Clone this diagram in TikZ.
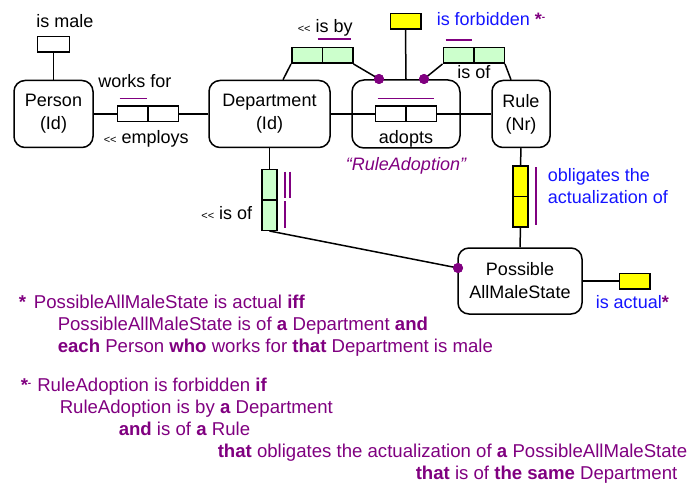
\documentclass[tikz,border=0pt]{standalone}
\usepackage{fontspec}
\setmainfont{Liberation Sans}
\usetikzlibrary{calc}
\definecolor{orm}{RGB}{128,0,128}
\definecolor{roleg}{RGB}{204,255,204}
\definecolor{ylw}{RGB}{255,255,0}
\definecolor{txtblue}{RGB}{20,20,255}
\newcommand{\sml}{\fontsize{11}{12}\selectfont}
\newcommand{\revmark}{{\sml\mbox{<}\mbox{<}}}
\begin{document}
\begin{tikzpicture}[x=1pt,y=-1pt,line width=1.5pt,
  every node/.style={font=\fontsize{18}{23}\selectfont},
  ent/.style={draw,rounded corners=11pt,align=center,inner sep=0pt},
  role/.style={draw,fill=white,inner sep=0pt,minimum width=30.5pt,minimum height=15.5pt},
  vrole/.style={draw,inner sep=0pt,minimum width=15pt,minimum height=30.5pt},
  greenrole/.style={role,fill=roleg},
  yrole/.style={role,fill=ylw},
  dotn/.style={circle,fill=orm,inner sep=0pt,minimum size=10pt},
  ucl/.style={draw=orm,line width=1.6pt},
  lbl/.style={inner sep=0pt},
  rule txt/.style={inner sep=0pt,anchor=base west,text=orm,font=\fontsize{18.6}{22}\selectfont}
]
\useasboundingbox (0,0) rectangle (688,484);

% entity types
\node[ent,minimum width=79pt,minimum height=67pt] (person) at (53.5,114) {Person\\(Id)};
\node[ent,minimum width=121pt,minimum height=67pt] (dept) at (269.5,114) {Department\\(Id)};
\node[ent,minimum width=58pt,minimum height=67pt] (rule) at (521,114) {Rule\\(Nr)};
\node[ent,minimum width=124pt,minimum height=66pt] (pams) at (520,281) {Possible\\AllMaleState};
\node[draw,rounded corners=12pt,minimum width=108pt,minimum height=68pt,inner sep=0pt] (obj) at (406,114) {};

% roles
\node[role,minimum width=32pt] (ismale) at (53.5,44.5) {};
\node[role] (wf1) at (132.5,114) {};
\node[role] (wf2) at (163,114) {};
\node[greenrole] (ib1) at (307,55.5) {};
\node[greenrole] (ib2) at (337.5,55.5) {};
\node[role] (ad1) at (390.5,114) {};
\node[role] (ad2) at (421,114) {};
\node[greenrole] (ro1) at (458.5,55.5) {};
\node[greenrole] (ro2) at (489,55.5) {};
\node[yrole] (fb) at (405.5,21.5) {};
\node[vrole,fill=roleg] (di1) at (269.5,184.5) {};
\node[vrole,fill=roleg] (di2) at (269.5,215) {};
\node[vrole,fill=ylw] (ob1) at (520.5,181) {};
\node[vrole,fill=ylw] (ob2) at (520.5,211.5) {};
\node[yrole] (ia) at (634.5,281) {};

% dots
\node[dotn] (d1) at (379,79) {};
\node[dotn] (d2) at (424,79) {};
\node[dotn] (d3) at (458,268) {};
\coordinate (c1) at ($(dept.north)+(13.5,0)$);
\coordinate (c2) at ($(rule.north)+(-10,0)$);

% connectors
\draw (ismale.south) -- (person.north);
\draw (person.east) -- (wf1.west);
\draw (wf2.east) -- (dept.west);
\draw (dept.east) -- (ad1.west);
\draw (ad2.east) -- (rule.west);
\draw (fb.south) -- (obj.north);
\draw (ib1.south west) -- (c1);
\draw (ib2.south east) -- (d1.center);
\draw (ro1.south west) -- (d2.center);
\draw (ro2.south east) -- (c2);
\draw (dept.south) -- (di1.north);
\draw (di2.south) -- (d3.center);
\draw (rule.south) -- (ob1.north);
\draw (ob2.south) -- (pams.north);
\draw (pams.east) -- (ia.west);
\node[dotn] at (d1) {};
\node[dotn] at (d2) {};
\node[dotn] at (d3) {};

% uniqueness constraints
\draw[ucl] ([xshift=3pt,yshift=7pt]wf1.north west) -- ([xshift=-2pt,yshift=7pt]wf1.north east);
\draw[ucl] ([xshift=-4pt,yshift=8pt]ib2.north west) -- ([xshift=-3pt,yshift=8pt]ib2.north east);
\draw[ucl] ([xshift=3pt,yshift=7pt]ad1.north west) -- ([xshift=-3pt,yshift=7pt]ad2.north east);
\draw[ucl] ([xshift=3pt,yshift=7pt]ro1.north west) -- ([xshift=-3pt,yshift=7pt]ro1.north east);
\draw[ucl] ([xshift=7pt,yshift=-3pt]di1.north east) -- ([xshift=7pt,yshift=3pt]di1.south east);
\draw[ucl] ([xshift=12pt,yshift=-3pt]di1.north east) -- ([xshift=12pt,yshift=3pt]di1.south east);
\draw[ucl] ([xshift=7pt,yshift=-2pt]di2.north east) -- ([xshift=7pt,yshift=3pt]di2.south east);
\draw[ucl] ([xshift=7pt,yshift=-2pt]ob1.north east) -- ([xshift=7pt,yshift=3pt]ob2.south east);

% labels
\node[lbl,anchor=base] (l1) at (65,28) {is male};
\node[lbl,anchor=base] (l2) at (135,88) {works for};
\node[lbl,anchor=base west] (l3) at (103,144) {\revmark\ employs};
\node[lbl,anchor=base west] (l4) at (297,33) {\revmark\ is by};
\node[lbl,anchor=base west] (l5) at (436,26) {\textcolor{txtblue}{is forbidden} \textcolor{orm}{\textbf{*}\raisebox{5pt}{\fontsize{10}{10}\selectfont\textbf{-}}}};
\node[lbl,anchor=base] (l6) at (474,79) {is of};
\node[lbl,anchor=base] (l7) at (406,143) {adopts};
\node[lbl,anchor=base,text=orm] (l8) at (406,170) {\itshape “RuleAdoption”};
\node[lbl,anchor=base east] (l9) at (253,219) {\revmark\ is of};
\node[lbl,anchor=base west,text=txtblue] (l10) at (547,181) {obligates the};
\node[lbl,anchor=base west,text=txtblue] (l11) at (547,203) {actualization of};
\node[lbl,anchor=base west] (l12) at (595,308) {\textcolor{txtblue}{is actual}\textcolor{orm}{\textbf{*}}};

% rule texts
\node[rule txt] (t1) at (18,308) {\textbf{*}\hspace{8pt}PossibleAllMaleState is actual \textbf{iff}};
\node[rule txt] (t2) at (57,330) {PossibleAllMaleState is of \textbf{a} Department \textbf{and}};
\node[rule txt] (t3) at (57,352) {\textbf{each} Person \textbf{who} works for \textbf{that} Department is male};
\node[rule txt] (t4) at (20,391) {\textbf{*}\raisebox{5pt}{\fontsize{10}{10}\selectfont\textbf{-}}\hspace{6pt}RuleAdoption is forbidden \textbf{if}};
\node[rule txt] (t5) at (59,413) {RuleAdoption is by \textbf{a} Department};
\node[rule txt] (t6) at (118,435) {\textbf{and} is of \textbf{a} Rule};
\node[rule txt] (t7) at (217,457) {\textbf{that} obligates the actualization of \textbf{a} PossibleAllMaleState};
\node[rule txt] (t8) at (415,479) {\textbf{that} is of \textbf{the same} Department};
\end{tikzpicture}
\end{document}
